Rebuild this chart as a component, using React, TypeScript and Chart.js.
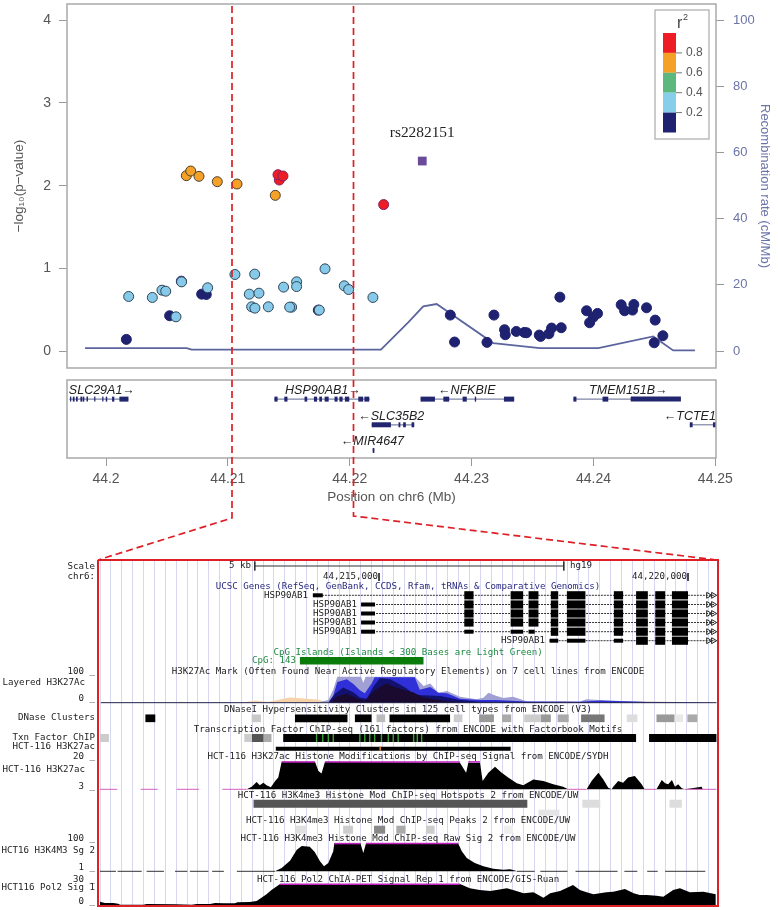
import { useEffect, useRef } from "react";
import { Chart, registerables } from "chart.js";
Chart.register(...registerables);

/* ---------- Association panel (x: kb from 44.2 Mb) ---------- */
const snpLightX = [1.86,3.80,4.59,4.90,6.20,5.74,8.34,10.58,11.76,12.55,11.95,12.22,13.32,12.20,14.57,15.64,15.64,15.23,15.07,17.50,17.97,19.55,19.91,21.90];
const snpLightY = [0.66,0.648,0.736,0.724,0.837,0.414,0.765,0.926,0.688,0.70,0.535,0.519,0.535,0.93,0.773,0.837,0.78,0.531,0.531,0.495,0.994,0.789,0.744,0.648];
const snpDarkX = [1.67,5.22,7.85,8.23,6.18,17.42,28.25,28.60,31.26,31.83,32.70,32.76,33.66,34.32,34.51,35.55,35.66,36.34,36.56,37.35,37.24,39.43,39.68,39.98,40.33,42.27,42.55,43.20,43.31,44.35,45.06,45.69,44.98];
const snpDarkY = [0.141,0.427,0.688,0.684,0.845,0.495,0.435,0.109,0.105,0.435,0.258,0.197,0.237,0.225,0.221,0.193,0.177,0.209,0.278,0.282,0.652,0.487,0.342,0.41,0.455,0.559,0.487,0.495,0.563,0.523,0.374,0.185,0.10];
const snpOrangeX = [6.59,6.95,7.63,9.13,10.75,13.89];
const snpOrangeY = [2.121,2.177,2.113,2.048,2.02,1.883];
const snpRedX = [14.22,14.11,14.52,22.78];
const snpRedY = [2.068,2.133,2.117,1.771];
const leadSnpX = [25.95];
const leadSnpY = [2.298];
const leadSnpName = "rs2282151";
const recombX = [-1.72,6.62,7.03,22.56,24.80,26.03,27.13,31.77,35.60,40.39,44.90,46.54,48.32];
const recombY = [0.9,0.9,0.4,0.4,8.65,13.5,14.2,2.4,0.9,0.9,4.4,0.2,0.2];
const legendTicks = ["0.8","0.6","0.4","0.2"];
const legendColors = ["#ee1c25","#f5a128","#5cb87f","#87ceeb","#1e2270"];

/* ---------- Gene panel (kb from 44.2 Mb) ---------- */
const geneNames = ["SLC29A1→","HSP90AB1→","←NFKBIE","TMEM151B→","←SLC35B2","←TCTE1","←MIR4647"];
const geneLabelCenter = [-0.34,17.8,29.6,42.86,23.4,47.9,21.86];
const geneRow = [1,1,1,1,2,2,3];
const geneSpans = [[-3.01,1.84],[13.79,21.65],[25.81,33.49],[38.35,47.17],[21.8,25.29],[47.9,50.05],[21.88,22.02]];
const geneExons = [
  [[-2.95,-2.85],[-2.72,-2.58],[-2.46,-2.32],[-2.1,-1.94],[-1.9,-1.78],[-1.6,-1.48],[-0.97,-0.87],[-0.31,-0.21],[-0.02,0.1],[0.5,0.68],[1.1,1.84]],
  [[13.82,14.08],[14.63,14.89],[16.29,16.51],[17.06,17.32],[17.5,17.72],[17.94,18.27],[18.75,19.0],[19.15,19.41],[19.6,19.96],[20.7,21.1],[21.2,21.6]],
  [[25.81,26.99],[27.68,28.16],[29.26,29.6],[30.26,30.37],[32.65,33.49]],
  [[38.35,38.6],[40.74,41.21],[43.05,47.17]],
  [[21.8,23.38],[24.0,24.15],[24.38,24.6],[25.07,25.29]],
  [[47.9,48.13],[49.8,50.05]],
  [[21.88,22.02]],
];

/* ---------- Browser panel (kb from 44.21 Mb) ---------- */
const ucscGeneName = "HSP90AB1";
const txStart = [3.93,4.71,4.71,4.71,4.71,7.76];
const txEnd = 10.44;
const txFullExons = [[6.38,6.53],[7.13,7.33],[7.42,7.58],[7.78,7.90],[8.04,8.34],[8.80,8.95],[9.16,9.35],[9.47,9.63],[9.74,10.0]];
const tx5Thin = [[4.71,4.935],[6.38,6.53],[7.13,7.33],[7.42,7.52]];
const tx6Thin = [[7.76,7.90],[8.04,8.34],[8.80,8.95]];
const firstExonThin = [[3.93,4.09],[4.71,4.935],[4.71,4.935],[4.71,4.935]];

const cpgRange = [3.72,5.72];

const dnaseBoxes = [[1.22,1.38],[2.94,3.09],[3.64,4.49],[4.61,4.88],[4.96,5.10],[5.17,6.15],[6.21,6.35],[6.62,6.86],[6.99,7.14],[7.35,7.62],[7.62,7.78],[7.89,8.07],[8.27,8.65],[9.01,9.18],[9.49,9.78],[9.78,9.92],[9.99,10.15]];
const dnaseShade = ["#000","#c8c8c8","#000","#000","#bbb","#000","#ccc","#999","#aaa","#ccc","#999","#aaa","#777","#ddd","#999","#e8e8e8","#aaa"];
const tfBoxes = [[0.485,0.63],[2.82,2.94],[2.94,3.13],[3.13,3.26],[3.45,9.16],[9.37,10.46]];
const tfShade = ["#ccc","#ccc","#555","#aaa","#000","#000"];
const tfMotifs = [3.99,4.09,4.18,4.26,4.69,4.77,4.85,4.93,5.04,5.15,5.23,5.31,5.56,5.62,5.69];
const acPeak = [3.33,7.13];
const hotspotBoxes = [[2.97,7.40],[8.29,8.58],[9.70,9.90]];
const hotspotShade = ["#555","#ddd","#ddd"];
const hotspotExtra = [7.58,7.92];
const peakBoxes = [[3.65,3.83],[4.42,4.58],[4.92,5.10],[5.28,5.43],[5.76,5.90],[7.02,7.17]];
const peakShade = ["#e0e0e0","#ccc","#888","#aaa","#ccc","#eee"];

const layer1X = [0.5,3.9,4.045,4.18,4.26,4.326,4.71,4.746,4.784,5.58,5.72,5.83,5.96,6.10,6.31,6.58,6.69,6.77,6.88,7.01,7.17,7.39,7.55,8.25,8.36,8.68,9.33,10.46];
const layer1V = [2,2,3,10,51,100,100,77,100,100,64,74,38,45,23,13,19,38,28,18,23,6,5,5,13,8,4,1];
const layer2X = [4.18,4.26,4.326,4.48,4.585,4.69,4.77,4.88,4.93,5.016,5.58,5.66,5.83,5.96,6.10,6.31,6.63,6.90,7.39,8.25,8.58,9.33,10.46];
const layer2V = [0,28,80,90,72,48,36,74,98,98,98,50,60,38,36,15,10,10,5,4,8,3,0];
const layer3X = [4.18,4.29,4.42,4.585,4.69,4.80,4.91,5.016,5.18,5.34,5.45,5.58,5.83,5.99,6.31,6.63,7.39,10.46];
const layer3V = [0,34,58,40,20,15,62,95,90,70,55,30,28,26,10,4,3,0];
const layer4X = [4.21,4.31,4.48,4.64,4.77,4.93,5.12,5.23,5.39,5.55,5.72,5.88,6.10,6.63];
const layer4V = [0,22,35,17,7,48,75,62,50,40,20,14,6,1];
const layerFaintX = [0.5,1.6,1.8,2.0,2.8,3.0,3.2,3.55,4.0,4.2,7.5,8.0,8.2,9.3,10.46];
const layerFaintV = [1,1,4,1,1,8,3,20,12,0,0,7,3,5,1];

const acX = [2.859,2.94,3.02,3.07,3.13,3.18,3.25,3.32,3.37,3.425,3.964,4.02,4.07,4.126,6.31,6.41,6.445,6.634,6.677,6.77,6.877,6.985,7.09,7.23,7.335,7.497,7.66,7.82,7.98,8.06,8.36,8.44,8.55,8.63,8.71,8.765,8.79,8.87,8.95,9.03,9.14,9.25,9.30,9.49,9.575,9.63,9.68,9.74,9.79,9.84,9.90,9.95,10.06,10.22,10.24];
const acV = [3,4.6,7.5,5.5,7.1,5.5,4.2,8.1,10.2,20,20,14.3,12.8,20,19.4,13.2,19.4,19.4,8.1,13.2,16.9,13.2,10.2,6.7,5.5,9.1,8.1,6.1,4.6,3,3,8.1,13.2,9.1,4,3,4.6,8.1,7.1,10.2,11.2,6.1,3,3,8.7,6.7,6.1,8.7,4.6,6.1,3.6,3,3.6,4.6,3];
const acTopClips = [[3.425,3.964],[4.126,6.31],[6.445,6.634]];
const acLowClips = [[0.485,0.766],[1.143,1.419],[1.726,2.087],[2.465,2.859],[8.06,8.36],[9.30,9.49],[9.95,10.46]];

const k4X = [3.317,3.425,3.56,3.67,3.75,3.88,3.96,4.045,4.11,4.18,4.26,4.277,4.70,4.746,4.79,6.28,6.34,6.42,6.55,6.69,6.85,7.01,7.12,7.2,7.23];
const k4V = [1,12.8,38.7,77.6,90.6,88.2,69.4,36.4,18.7,30.5,71.7,100,100,65.8,100,100,71.7,48.2,30.5,18.7,10.4,6.9,8.1,3.4,1];
const k4TopClips = [[4.277,4.70],[4.79,6.28]];
const k4Floor = [[0.485,0.744],[0.771,1.16],[1.24,1.52],[1.70,1.90],[1.94,2.24],[2.30,2.49],[2.70,3.317],[7.23,7.52],[7.61,8.05],[8.18,8.86],[8.97,9.18],[9.34,9.51],[9.63,10.28]];

const polX = [0.485,0.566,0.70,0.78,0.81,1.187,1.24,1.70,1.97,2.05,2.265,2.35,2.48,2.67,2.71,2.91,3.02,3.18,3.26,3.40,6.31,6.47,6.63,6.80,6.90,7.07,7.17,7.34,7.50,7.66,7.77,7.93,8.14,8.25,8.36,8.47,8.68,8.79,8.98,9.12,9.22,9.33,9.49,9.60,9.76,9.87,10.03,10.25,10.45];
const polV = [4.8,2.9,2.9,1.9,0.5,0.5,1.4,1,0.5,1.4,1.4,2.9,2.4,2.4,3.8,4.3,5.7,15.2,21.4,30,30,23.8,21.4,20,21.4,23.8,21.4,16.7,18.1,10.5,16.7,20,28.6,21.4,18.1,15.2,18.1,19,22.9,16.7,14.3,14.3,13.3,11.9,21.4,23.8,18.1,19,15.2];
const polTopClip = [3.40,6.31];

const trackTitles = [
  "UCSC Genes (RefSeq, GenBank, CCDS, Rfam, tRNAs & Comparative Genomics)",
  "CpG Islands (Islands < 300 Bases are Light Green)",
  "H3K27Ac Mark (Often Found Near Active Regulatory Elements) on 7 cell lines from ENCODE",
  "DNaseI Hypersensitivity Clusters in 125 cell types from ENCODE (V3)",
  "Transcription Factor ChIP-seq (161 factors) from ENCODE with Factorbook Motifs",
  "HCT-116 H3K27ac Histone Modifications by ChIP-seq Signal from ENCODE/SYDH",
  "HCT-116 H3K4me3 Histone Mod ChIP-seq Hotspots 2 from ENCODE/UW",
  "HCT-116 H3K4me3 Histone Mod ChIP-seq Peaks 2 from ENCODE/UW",
  "HCT-116 H3K4me3 Histone Mod ChIP-seq Raw Sig 2 from ENCODE/UW",
  "HCT-116 Pol2 ChIA-PET Signal Rep 1 from ENCODE/GIS-Ruan",
];
const titleRows = [587,652.7,672,710,729.5,756.7,795.3,821,839,879.7];
const titleColors = ["#2a2a80","#1f8a3f","#222","#222","#222","#222","#222","#222","#222","#222"];
const sideLabels = ["Scale","chr6:","100 _","0 _","DNase Clusters","Txn Factor ChIP","HCT-116 H3K27ac","20 _","3 _","100 _","HCT16 H3K4M3 Sg 2","1 _","30 _","HCT116 Pol2 Sig 1","0 _"];
const sideRows = [567,577,672,699,718,738,747,756.7,786.7,839,851,868,879.7,888,901.3];

const connectorLeftX = [232,232,98];
const connectorLeftY = [6,518,560];
const connectorRightX = [353.5,353.5,717];
const connectorRightY = [6,516,560];
const frameX = [98,718,718,98,98];
const frameY = [560,560,906,906,560];

/* ---------- helpers ---------- */
const zip = (xs: number[], ys: number[]) => xs.map((x, i) => ({ x, y: ys[i] }));
const seg = (y: number, x0: number, x1: number, w: number, color: string, dash?: number[]) => ({
  data: [{ x: x0, y }, { x: x1, y }],
  borderColor: color, borderWidth: w, borderCapStyle: "butt", borderDash: dash ?? [],
  pointRadius: 0, tension: 0, fill: false,
});
const vseg = (x: number, y0: number, y1: number, w: number, color: string) => ({
  data: [{ x, y: y0 }, { x, y: y1 }],
  borderColor: color, borderWidth: w, borderCapStyle: "butt", pointRadius: 0, fill: false,
});
const area = (xs: number[], vs: number[], base: number, height: number, lo: number, hi: number, color: string) => ({
  data: xs.map((x, i) => ({ x, y: base - ((vs[i] - lo) / (hi - lo)) * height })),
  borderColor: color, backgroundColor: color, borderWidth: 0, pointRadius: 0, tension: 0,
  fill: { target: { value: base } },
});

const AX_MIN = -3.2, AX_MAX = 50.05;
const GREY = "#a9a9a9";
const MONO = '"DejaVu Sans Mono", monospace';
const SANS = '"Liberation Sans", Arial, sans-serif';

const boxPlugin = {
  id: "box",
  afterDatasetsDraw(c: any) {
    const { ctx, chartArea: a } = c;
    ctx.save();
    ctx.strokeStyle = GREY;
    ctx.lineWidth = 1.5;
    ctx.strokeRect(a.left, a.top, a.right - a.left, a.bottom - a.top);
    ctx.restore();
  },
};

const assocText = {
  id: "assocText",
  afterDatasetsDraw(c: any) {
    const { ctx, scales } = c;
    ctx.save();
    ctx.fillStyle = "#222";
    ctx.font = '15.4px "Liberation Serif", serif';
    ctx.textAlign = "center";
    ctx.textBaseline = "middle";
    ctx.fillText(leadSnpName, scales.x.getPixelForValue(leadSnpX[0]), scales.y.getPixelForValue(leadSnpY[0]) - 28);
    // legend
    ctx.fillStyle = "#fff";
    ctx.fillRect(655, 10, 54, 129);
    ctx.strokeStyle = "#999";
    ctx.lineWidth = 1;
    ctx.strokeRect(655, 10, 54, 129);
    legendColors.forEach((col, i) => {
      ctx.fillStyle = col;
      ctx.fillRect(663, 33 + i * 19.9, 13, 19.9);
    });
    ctx.strokeStyle = "#777";
    ctx.fillStyle = "#555";
    ctx.font = `12px ${SANS}`;
    ctx.textAlign = "left";
    legendTicks.forEach((t, i) => {
      const y = 33 + (i + 1) * 19.9;
      ctx.beginPath(); ctx.moveTo(676, y); ctx.lineTo(682, y); ctx.stroke();
      ctx.fillText(t, 686, y);
    });
    ctx.fillStyle = "#444";
    ctx.font = `16px ${SANS}`;
    ctx.fillText("r", 677, 24);
    ctx.font = `9px ${SANS}`;
    ctx.fillText("2", 683, 18);
    ctx.restore();
  },
};

const geneText = {
  id: "geneText",
  afterDatasetsDraw(c: any) {
    const { ctx, scales } = c;
    ctx.save();
    ctx.fillStyle = "#222";
    ctx.font = `italic 12.5px ${SANS}`;
    ctx.textAlign = "center";
    ctx.textBaseline = "middle";
    geneNames.forEach((n, i) => {
      ctx.fillText(n, scales.x.getPixelForValue(geneLabelCenter[i]), scales.y.getPixelForValue(geneRow[i]) - 8.7);
    });
    ctx.restore();
  },
};

const browserText = {
  id: "browserText",
  afterDatasetsDraw(c: any) {
    const { ctx, scales } = c;
    const Y = (v: number) => scales.y.getPixelForValue(v);
    const X = (v: number) => scales.x.getPixelForValue(v);
    ctx.save();
    ctx.font = `9.15px ${MONO}`;
    ctx.textBaseline = "middle";
    ctx.textAlign = "center";
    trackTitles.forEach((t, i) => {
      ctx.fillStyle = titleColors[i];
      ctx.fillText(t, X(5.47), Y(titleRows[i]));
    });
    ctx.textAlign = "right";
    ctx.fillStyle = "#222";
    sideLabels.forEach((t, i) => ctx.fillText(t, 95, Y(sideRows[i])));
    ctx.fillText("Layered H3K27Ac", 85, Y(683));
    ctx.fillText("HCT-116 H3K27ac", 85, Y(769.3));
    ctx.fillText("5 kb", 251, Y(566));
    ctx.fillText("44,215,000", X(5) - 1, Y(577));
    ctx.fillText("44,220,000", X(10) - 1, Y(577));
    ctx.fillText(ucscGeneName, 308, Y(595.3));
    [604.5, 613.5, 622.5, 631.7].forEach((r) => ctx.fillText(ucscGeneName, 357, Y(r)));
    ctx.fillText(ucscGeneName, 545, Y(640.7));
    ctx.fillStyle = "#1f8a3f";
    ctx.fillText("CpG: 143", 296, Y(660.7));
    ctx.textAlign = "left";
    ctx.fillStyle = "#222";
    ctx.fillText("hg19", 570, Y(566));
    ctx.restore();
  },
};

function assocConfig(): any {
  const pt = (data: any, color: string, border: string) => ({
    type: "scatter", data, yAxisID: "y", backgroundColor: color, borderColor: border,
    borderWidth: 1, pointRadius: 5, pointBackgroundColor: color, pointBorderColor: border,
  });
  return {
    type: "scatter",
    data: {
      datasets: [
        { type: "scatter", data: zip(leadSnpX, leadSnpY), yAxisID: "y", pointStyle: "rect", pointRadius: 6.2,
          pointBackgroundColor: "#6b4a9a", pointBorderColor: "#6b4a9a", pointBorderWidth: 0 },
        pt(zip(snpRedX, snpRedY), "#ee1c25", "#8a2060"),
        pt(zip(snpOrangeX, snpOrangeY), "#f5a128", "#4a4030"),
        pt(zip(snpLightX, snpLightY), "#87c9e8", "#2f4658"),
        pt(zip(snpDarkX, snpDarkY), "#1e2270", "#1e2270"),
        { type: "line", data: zip(recombX, recombY), yAxisID: "y1", borderColor: "#5c649e", borderWidth: 1.8,
          pointRadius: 0, tension: 0, fill: false },
      ],
    },
    options: {
      animation: false, responsive: false, devicePixelRatio: 1, events: [],
      layout: { padding: { top: 4, bottom: 7 }, autoPadding: false },
      plugins: { legend: { display: false }, tooltip: { enabled: false }, title: { display: false } },
      scales: {
        x: { type: "linear", display: false, min: AX_MIN, max: AX_MAX },
        y: {
          position: "left", min: -0.205, max: 4.197,
          afterFit: (s: any) => { s.width = 67; s.paddingTop = 0; s.paddingBottom = 0; },
          grid: { drawOnChartArea: false, tickLength: 8, color: "#999" },
          border: { display: false },
          ticks: { stepSize: 1, includeBounds: false, padding: 8, color: "#555", font: { family: SANS, size: 14 } },
          title: { display: true, text: "−log₁₀(p−value)", color: "#555", font: { family: SANS, size: 13.5 }, padding: { top: 11, bottom: 0 } },
        },
        y1: {
          position: "right", min: -5.13, max: 104.9,
          afterFit: (s: any) => { s.width = 62; s.paddingTop = 0; s.paddingBottom = 0; },
          grid: { drawOnChartArea: false, tickLength: 8, color: "#999" },
          border: { display: false },
          ticks: { stepSize: 20, includeBounds: false, padding: 9, color: "#6b74a8", font: { family: SANS, size: 13 } },
          title: { display: true, text: "Recombination rate (cM/Mb)", color: "#6b74a8", font: { family: SANS, size: 13 }, padding: { top: 6, bottom: 7 } },
        },
      },
    },
    plugins: [boxPlugin, assocText],
  };
}

function geneConfig(): any {
  const datasets: any[] = [];
  geneExons.forEach((exons, g) => {
    exons.forEach(([a, b]) => datasets.push(seg(geneRow[g], a, b, 5, "#22266f")));
  });
  geneSpans.forEach(([a, b], g) => datasets.push(seg(geneRow[g], a, b, 1.2, "#7f84a6")));
  return {
    type: "line",
    data: { datasets },
    options: {
      animation: false, responsive: false, devicePixelRatio: 1, events: [],
      layout: { padding: { left: 67, right: 62, top: 5, bottom: 0 }, autoPadding: false },
      plugins: { legend: { display: false }, tooltip: { enabled: false } },
      scales: {
        y: { type: "linear", display: false, reverse: true, min: 0.255, max: 3.294 },
        x: {
          type: "linear", min: AX_MIN, max: AX_MAX,
          afterFit: (s: any) => { s.height = 52; },
          grid: { drawOnChartArea: false, tickLength: 8, color: "#999" },
          border: { display: false },
          ticks: {
            stepSize: 10, includeBounds: false, padding: 5, color: "#555", maxRotation: 0, autoSkip: false,
            font: { family: SANS, size: 14 },
            callback: (v: number) => String(Number((44.2 + v / 1000).toFixed(2))),
          },
          title: { display: true, text: "Position on chr6 (Mb)", color: "#555", font: { family: SANS, size: 13.5 }, padding: { top: 2, bottom: 5 } },
        },
      },
    },
    plugins: [boxPlugin, geneText],
  };
}

function browserConfig(): any {
  const d: any[] = [];
  // clipped-signal markers go first so they stay on top
  acTopClips.forEach(([a, b]) => d.push(seg(761.9, a, b, 1.5, "#c020c0")));
  acLowClips.forEach(([a, b]) => d.push(seg(789.3, a, b, 1, "#d860c0")));
  k4TopClips.forEach(([a, b]) => d.push(seg(843.6, a, b, 1.5, "#c020c0")));
  k4Floor.forEach(([a, b]) => d.push(seg(871.3, a, b, 1, "#333")));
  d.push(seg(884.3, polTopClip[0], polTopClip[1], 1.5, "#c020c0"));

  // signals
  d.push(area(acX, acV, 789.3, 27.6, 3, 20, "#000"));
  d.push(area(k4X, k4V, 871.3, 28, 1, 100, "#000"));
  d.push(area(polX, polV, 905, 21, 0, 30, "#000"));

  // layered histone track (top layer first)
  d.push(seg(702.7, 0.5, 10.46, 1, "#2a2a50"));
  d.push(area(layer4X, layer4V, 702.7, 26, 0, 100, "#1a0a30"));
  d.push(area(layer3X, layer3V, 702.7, 26, 0, 100, "#12126e"));
  d.push(area(layer2X, layer2V, 702.7, 26, 0, 100, "#3030d8"));
  d.push(area(layer1X, layer1V, 702.7, 26, 0, 100, "#a0a0d4"));
  d.push(area(layerFaintX, layerFaintV, 702.7, 26, 0, 100, "#f6d2a8"));

  // feature boxes
  tfMotifs.forEach((k) => d.push(vseg(k, 734, 742, 1.4, "#3aa03a")));
  dnaseBoxes.forEach(([a, b], i) => d.push(seg(718.3, a, b, 7.7, dnaseShade[i])));
  tfBoxes.forEach(([a, b], i) => d.push(seg(738, a, b, 8, tfShade[i])));
  d.push(vseg(5.02, 746.7, 750.7, 1, "#d08030"));
  d.push(seg(748.7, acPeak[0], acPeak[1], 4, "#000"));
  hotspotBoxes.forEach(([a, b], i) => d.push(seg(803.7, a, b, 8, hotspotShade[i])));
  d.push(seg(812.7, hotspotExtra[0], hotspotExtra[1], 6, "#e4e4e4"));
  peakBoxes.forEach(([a, b], i) => d.push(seg(829.7, a, b, 8, peakShade[i])));
  d.push(seg(660.7, cpgRange[0], cpgRange[1], 7.6, "#0a7a0a"));

  // scale bar
  d.push(seg(566, 2.99, 7.99, 1, "#333"));
  d.push(vseg(2.99, 561.5, 570.5, 1, "#333"));
  d.push(vseg(7.99, 561.5, 570.5, 1, "#333"));
  d.push(vseg(5, 573, 581, 1, "#333"));
  d.push(vseg(10, 573, 581, 1, "#333"));

  // transcripts
  const rows = [595.3, 604.5, 613.5, 622.5, 631.7, 640.7];
  rows.forEach((y, r) => {
    if (r < 4) {
      d.push(seg(y, firstExonThin[r][0], firstExonThin[r][1], 4, "#000"));
      txFullExons.forEach(([a, b]) => d.push(seg(y, a, b, 8.2, "#000")));
    } else if (r === 4) {
      tx5Thin.forEach(([a, b]) => d.push(seg(y, a, b, 4, "#000")));
      txFullExons.slice(3).forEach(([a, b]) => d.push(seg(y, a, b, 8.2, "#000")));
    } else {
      tx6Thin.forEach(([a, b]) => d.push(seg(y, a, b, 4, "#000")));
      txFullExons.slice(6).forEach(([a, b]) => d.push(seg(y, a, b, 8.2, "#000")));
    }
    d.push(seg(y, txStart[r], txEnd, 1, "#333", [2, 1]));
    d.push({
      data: [{ x: 10.33, y }, { x: 10.41, y }],
      showLine: false, pointStyle: "triangle", pointRotation: 90, pointRadius: 3.4,
      pointBackgroundColor: "#fff", pointBorderColor: "#222", pointBorderWidth: 1,
    });
  });

  return {
    type: "line",
    data: { datasets: d },
    options: {
      animation: false, responsive: false, devicePixelRatio: 1, events: [],
      layout: { padding: 0, autoPadding: false },
      plugins: { legend: { display: false }, tooltip: { enabled: false } },
      scales: {
        y: { type: "linear", display: false, reverse: true, min: 561, max: 906 },
        x: {
          type: "linear", min: -70 / 61.8, max: 708 / 61.8,
          afterBuildTicks: (s: any) => {
            const t: any[] = [];
            for (let k = 0.487; k < 10.46; k += 0.1758) t.push({ value: k });
            s.ticks = t;
          },
          grid: { color: "#d6d6f0", lineWidth: 1, drawTicks: false },
          border: { display: false },
          ticks: { display: false },
        },
      },
    },
    plugins: [browserText],
  };
}

function overlayConfig(): any {
  const line = (xs: number[], ys: number[], w: number, dash: number[]) => ({
    data: zip(xs, ys), borderColor: "#dd1f26", borderWidth: w, borderDash: dash,
    borderCapStyle: "butt", pointRadius: 0, tension: 0, fill: false,
  });
  return {
    type: "line",
    data: {
      datasets: [
        line(connectorLeftX, connectorLeftY, 1.7, [7, 4]),
        line(connectorRightX, connectorRightY, 1.7, [7, 4]),
        line(frameX, frameY, 2, []),
      ],
    },
    options: {
      animation: false, responsive: false, devicePixelRatio: 1, events: [],
      layout: { padding: 0, autoPadding: false },
      plugins: { legend: { display: false }, tooltip: { enabled: false } },
      scales: {
        x: { type: "linear", display: false, min: 0, max: 778 },
        y: { type: "linear", display: false, reverse: true, min: 0, max: 910 },
      },
    },
  };
}

const PANELS = [
  { top: 0, height: 375, make: assocConfig, over: false },
  { top: 375, height: 135, make: geneConfig, over: false },
  { top: 561, height: 345, make: browserConfig, over: false },
  { top: 0, height: 910, make: overlayConfig, over: true },
];

export default function App() {
  const refs = useRef<(HTMLCanvasElement | null)[]>([]);
  useEffect(() => {
    document.body.style.background = "#fff";
    const charts = PANELS.map((p, i) => new Chart(refs.current[i] as any, p.make()));
    return () => charts.forEach((c) => c.destroy());
  }, []);
  return (
    <div style={{ position: "absolute", left: 0, top: 0, width: 778, height: 910, overflow: "hidden", background: "#fff", filter: "blur(0.35px)" }}>
      {PANELS.map((p, i) => (
        <canvas
          key={i}
          ref={(el) => { refs.current[i] = el; }}
          width={778}
          height={p.height}
          style={{ position: "absolute", left: 0, top: p.top, width: 778, height: p.height, pointerEvents: p.over ? "none" : "auto" }}
        />
      ))}
    </div>
  );
}
